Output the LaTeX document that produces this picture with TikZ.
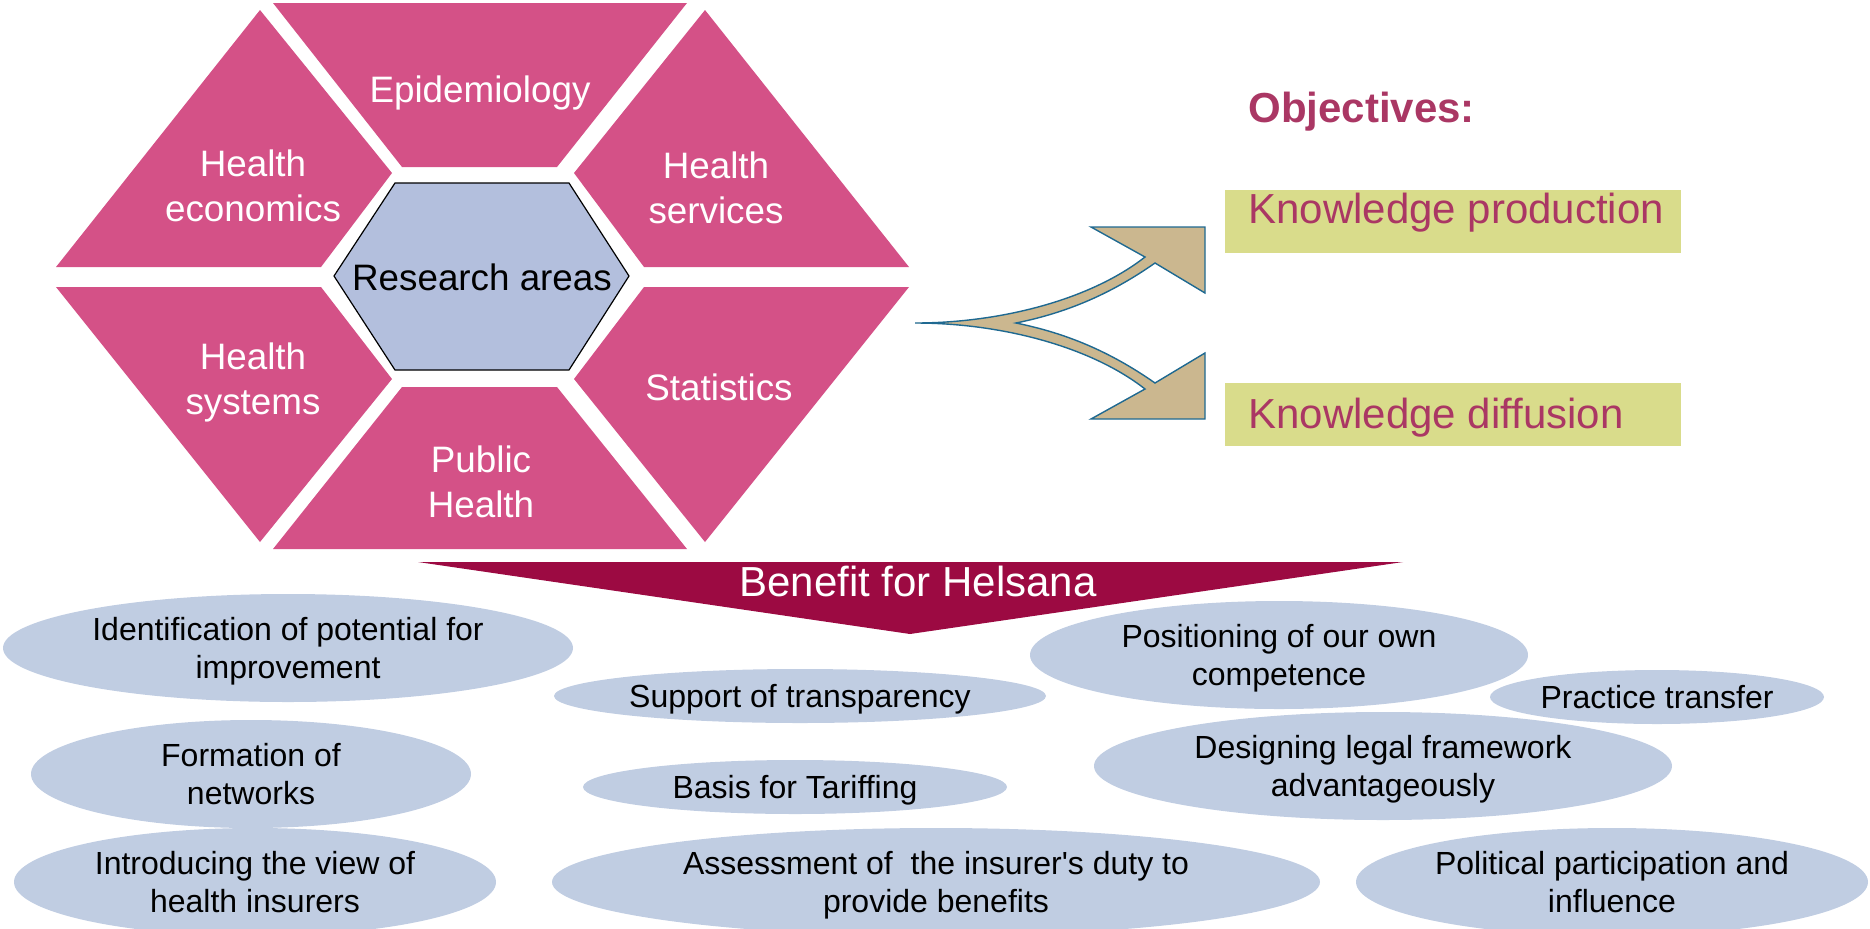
\documentclass[tikz,border=0pt]{standalone}
\usepackage{fontspec}
\setmainfont{Liberation Sans}
\usepackage{tikz}
\usetikzlibrary{shapes.geometric}
\usetikzlibrary{positioning}

\definecolor{areapink}{RGB}{212,81,135}
\definecolor{areablue}{RGB}{179,191,221}
\definecolor{objred}{RGB}{170,55,100}
\definecolor{objbg}{RGB}{217,220,139}
\definecolor{forktan}{RGB}{203,183,143}
\definecolor{forkline}{RGB}{31,105,145}
\definecolor{helsana}{RGB}{156,10,66}
\definecolor{benefitbg}{RGB}{192,205,226}

\begin{document}
\begin{tikzpicture}[x=0.5pt, y=-0.5pt,
      area/.style ={text=white, align=center, font=\fontsize{18.4}{22.5}\selectfont},
      core/.style ={text=black, font=\fontsize{18.4}{22.5}\selectfont},
      objbox/.style ={rectangle, fill=objbg, minimum width=228pt, minimum height=31.5pt, inner sep=0pt},
      objtext/.style ={text=objred, inner sep=0pt, font=\fontsize{21}{25}\selectfont},
      banner/.style ={text=white, font=\fontsize{21}{25}\selectfont},
      benefit/.style ={ellipse, fill=benefitbg, align=center, inner sep=0pt, text depth=0pt, font=\fontsize{16}{19}\selectfont}
    ]
    \useasboundingbox (0,0) rectangle (1870,928);

    \fill [areapink] (273,3) -- (687,3) -- (557,167) -- (402,167) -- cycle;
    \fill [areapink] (705,10) -- (909,267) -- (644,267) -- (574,173) -- cycle;
    \fill [areapink] (644,287) -- (909,287) -- (705,542) -- (574,379) -- cycle;
    \fill [areapink] (402,387) -- (557,387) -- (687,549) -- (273,549) -- cycle;
    \fill [areapink] (56,287) -- (321,287) -- (392,379) -- (260,542) -- cycle;
    \fill [areapink] (260,10) -- (392,173) -- (321,267) -- (56,267) -- cycle;
    \draw [fill=areablue, line width=0.6pt] (395,183) -- (569,183) -- (629,276) -- (569,370) -- (395,370) -- (334,276) -- cycle;

    \node [area] (epi) at (480,93) {Epidemiology} ;
    \node [area] (econ) at (253,186) {Health\\economics} ;
    \node [area] (services) at (716,188) {Health\\services} ;
    \node [area] (stats) at (719,387) {Statistics} ;
    \node [area] (systems) at (253,382) {Health\\systems} ;
    \node [area] (public) at (481,482) {Public\\Health} ;
    \node [core] (research) at (482,277) {Research areas} ;

    \draw [fill=forktan, draw=forkline, line width=0.7pt]
      (915,323) .. controls (1000,323) and (1090,300) .. (1145,257)
      -- (1091,227) -- (1205,227) -- (1205,293) -- (1155,263)
      .. controls (1105,298) and (1060,314) .. (1016,323)
      .. controls (1060,332) and (1105,348) .. (1155,383)
      -- (1205,353) -- (1205,419) -- (1091,419) -- (1145,389)
      .. controls (1090,346) and (1000,323) .. (915,323) -- cycle;

    \node [objtext, anchor=base west, font=\bfseries\fontsize{21}{25}\selectfont] (objectives) at (1248,122) {Objectives:} ;
    \node [objbox] (prodbox) at (1453,221.5) {} ;
    \node [objtext, anchor=base west] (prod) at (1248,223) {Knowledge production} ;
    \node [objbox] (diffbox) at (1453,414) {} ;
    \node [objtext, anchor=base west] (diff) at (1248,428) {Knowledge diffusion} ;

    \fill [helsana] (418,562) -- (1403,562) -- (910,634) -- cycle;
    \node [banner] (helsana) at (918,581) {Benefit for Helsana} ;

    \node [benefit, minimum width=285pt, minimum height=54pt] (ident) at (288,648) {Identification of potential for\\improvement} ;
    \node [benefit, minimum width=246pt, minimum height=27pt] (transp) at (800,696) {Support of transparency} ;
    \node [benefit, minimum width=249pt, minimum height=54pt] (ownpos) at (1279,655) {Positioning of our own\\competence} ;
    \node [benefit, minimum width=167pt, minimum height=27pt] (practice) at (1657,697) {Practice transfer} ;
    \node [benefit, minimum width=220pt, minimum height=54pt] (networks) at (251,774) {Formation of\\networks} ;
    \node [benefit, minimum width=212pt, minimum height=27pt] (tariff) at (795,787) {Basis for Tariffing} ;
    \node [benefit, minimum width=289pt, minimum height=54pt] (legal) at (1383,766) {Designing legal framework\\advantageously} ;
    \node [benefit, minimum width=241pt, minimum height=54pt] (insurers) at (255,882) {Introducing the view of\\health insurers} ;
    \node [benefit, minimum width=384pt, minimum height=54pt] (duty) at (936,882) {Assessment of~ the insurer\textquotesingle s duty to\\provide benefits} ;
    \node [benefit, minimum width=256pt, minimum height=54pt] (politics) at (1612,882) {Political participation and\\influence} ;
  \end{tikzpicture}
\end{document}
